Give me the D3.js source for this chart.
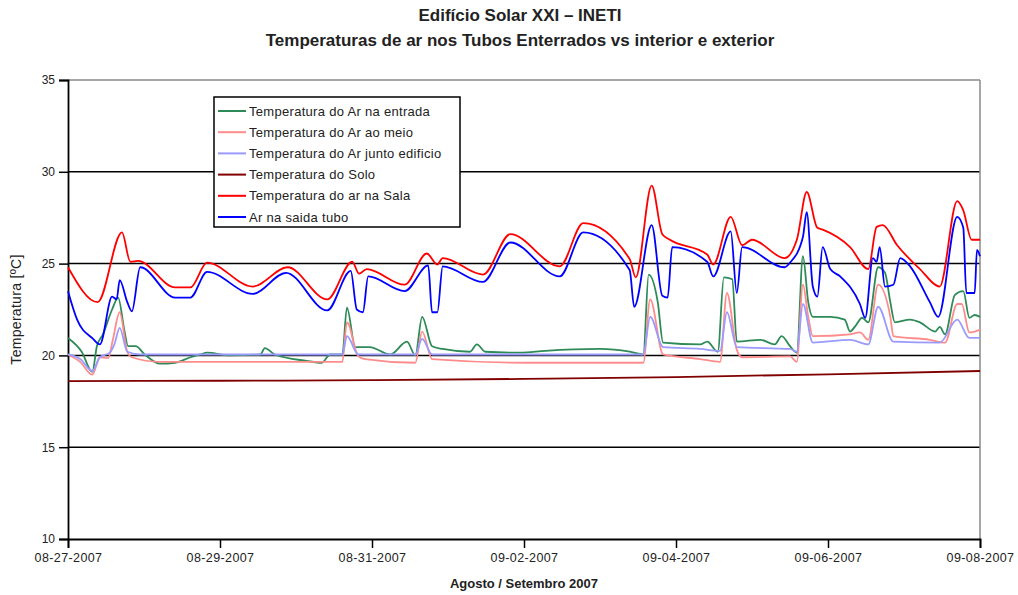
<!DOCTYPE html>
<html>
<head>
<meta charset="utf-8">
<script src="https://cdn.jsdelivr.net/npm/d3@7"></script>
<style>
  body { margin: 0; background: #fff; }
  text { font-family: Arial, "Liberation Sans", sans-serif; fill: #222; }
</style>
</head>
<body>
<div id="vis"></div>
<script>
// size of the page / plot area
const width = 1018
const height = 595
const margin = { top: 80, right: 38, bottom: 56, left: 68 }

// start of the x axis, all series use day offsets from it
const startDate = new Date(2007, 7, 27)
const endDate = new Date(2007, 8, 8)
const xTickLabels = ['08-27-2007', '08-29-2007', '08-31-2007', '09-02-2007', '09-04-2007', '09-06-2007', '09-08-2007']
const yTicks = [10, 15, 20, 25, 30, 35]

// series: [day offset, temperature]
const arEntrada = [[0, 20.95], [0.18, 20.2], [0.32, 19.1], [0.38, 20.5], [0.46, 21.15], [0.58, 22.5], [0.66, 23.15], [0.74, 21.4], [0.79, 20.5], [0.89, 20.5], [1.01, 20.05], [1.21, 19.55], [1.41, 19.6], [1.61, 19.9], [1.74, 20.05], [1.83, 20.15], [2.13, 20.0], [2.53, 20.05], [2.59, 20.4], [2.72, 20.05], [3.14, 19.7], [3.34, 19.6], [3.45, 20.05], [3.61, 20.05], [3.67, 22.6], [3.78, 20.45], [3.97, 20.45], [4.24, 20.05], [4.46, 20.75], [4.57, 20.0], [4.66, 22.1], [4.79, 20.5], [4.93, 20.35], [5.29, 20.2], [5.38, 20.6], [5.49, 20.2], [5.95, 20.15], [6.28, 20.25], [7.0, 20.35], [7.39, 20.2], [7.57, 20.05], [7.64, 24.4], [7.76, 22.9], [7.83, 20.7], [8.32, 20.6], [8.41, 20.75], [8.55, 20.2], [8.63, 24.25], [8.74, 24.15], [8.8, 20.75], [9.11, 20.85], [9.3, 20.6], [9.39, 21.05], [9.5, 20.5], [9.59, 20.15], [9.67, 25.4], [9.74, 22.9], [9.8, 22.1], [10.03, 22.1], [10.22, 21.95], [10.29, 21.3], [10.36, 21.6], [10.45, 22.05], [10.53, 21.8], [10.66, 24.8], [10.75, 24.5], [10.82, 22.9], [10.88, 21.8], [11.08, 21.95], [11.21, 21.8], [11.41, 21.3], [11.47, 21.55], [11.54, 21.15], [11.67, 23.3], [11.78, 23.5], [11.86, 22.05], [11.93, 22.2], [12.0, 22.1]]

const arMeio = [[0, 20.05], [0.16, 19.65], [0.32, 18.95], [0.42, 19.9], [0.53, 19.85], [0.59, 20.85], [0.68, 22.35], [0.78, 20.2], [0.84, 19.9], [1.21, 19.65], [2.39, 19.65], [3.61, 19.65], [3.67, 21.8], [3.82, 19.95], [3.91, 19.8], [4.57, 19.6], [4.66, 21.3], [4.79, 19.8], [6.05, 19.6], [7.57, 19.6], [7.66, 23.05], [7.83, 20.05], [8.32, 19.8], [8.58, 19.65], [8.67, 23.4], [8.8, 20.3], [8.87, 19.9], [9.5, 19.95], [9.59, 19.65], [9.67, 23.85], [9.74, 22.1], [9.8, 21.05], [10.29, 21.15], [10.42, 21.25], [10.53, 20.85], [10.66, 23.85], [10.82, 22.1], [10.86, 21.05], [11.34, 20.85], [11.54, 20.7], [11.7, 22.8], [11.76, 22.8], [11.86, 21.25], [11.93, 21.3], [12.0, 21.4]]

const arEdificio = [[0, 20.05], [0.16, 19.8], [0.32, 19.15], [0.42, 19.9], [0.55, 20.15], [0.61, 20.6], [0.68, 21.5], [0.78, 20.2], [0.95, 20.05], [3.61, 20.05], [3.67, 21.05], [3.82, 20.05], [4.57, 20.05], [4.66, 20.9], [4.79, 20.05], [7.57, 20.05], [7.66, 22.1], [7.83, 20.45], [8.32, 20.35], [8.58, 20.25], [8.67, 22.35], [8.8, 20.45], [9.5, 20.35], [9.59, 20.2], [9.67, 22.8], [9.8, 20.7], [10.29, 20.85], [10.53, 20.6], [10.66, 22.65], [10.86, 20.75], [11.47, 20.7], [11.7, 21.95], [11.86, 20.95], [12.0, 20.95]]

const solo = [[0, 18.6], [2, 18.62], [4, 18.65], [6, 18.72], [8, 18.82], [10, 18.97], [12, 19.15]]

const sala = [[0, 24.8], [0.39, 22.9], [0.71, 26.7], [0.82, 25.1], [0.92, 25.15], [1.41, 23.7], [1.61, 23.7], [1.83, 25.05], [2.43, 23.75], [2.89, 24.8], [3.41, 23.05], [3.74, 25.1], [3.83, 24.45], [3.93, 24.7], [4.43, 23.85], [4.72, 25.55], [4.86, 24.95], [4.93, 25.3], [5.46, 24.4], [5.82, 26.6], [6.47, 24.85], [6.78, 27.2], [7.39, 25.25], [7.47, 24.25], [7.68, 29.25], [7.82, 26.6], [7.92, 26.3], [8.41, 25.5], [8.49, 24.95], [8.72, 27.55], [8.87, 26.0], [9.0, 26.3], [9.43, 25.3], [9.59, 26.3], [9.72, 28.9], [9.86, 26.95], [9.93, 26.85], [10.29, 25.9], [10.53, 24.7], [10.64, 27.0], [10.72, 27.1], [10.91, 26.0], [11.21, 24.7], [11.47, 23.75], [11.7, 28.4], [11.78, 27.9], [11.89, 26.3], [12.0, 26.3]]

const saidaTubo = [[0, 23.5], [0.12, 21.95], [0.33, 20.9], [0.42, 20.6], [0.58, 23.2], [0.64, 23.05], [0.68, 24.1], [0.78, 22.9], [0.84, 22.4], [0.95, 24.8], [1.41, 23.15], [1.61, 23.15], [1.83, 24.55], [2.43, 23.35], [2.87, 24.5], [3.41, 22.45], [3.72, 24.6], [3.8, 22.5], [3.88, 22.35], [3.95, 24.3], [4.43, 23.5], [4.74, 24.9], [4.79, 22.35], [4.86, 22.35], [4.93, 24.85], [5.46, 24.0], [5.82, 26.15], [6.47, 24.3], [6.78, 26.7], [7.39, 24.65], [7.45, 22.65], [7.68, 27.1], [7.82, 23.25], [7.89, 23.15], [7.95, 25.9], [8.41, 25.1], [8.49, 24.3], [8.72, 26.75], [8.8, 23.4], [8.87, 25.9], [9.43, 24.8], [9.5, 25.05], [9.67, 26.45], [9.72, 27.8], [9.8, 23.75], [9.86, 23.2], [9.93, 25.9], [10.03, 24.7], [10.16, 24.3], [10.42, 22.8], [10.49, 22.05], [10.59, 25.3], [10.64, 25.1], [10.68, 25.9], [10.75, 23.75], [10.86, 23.85], [10.95, 25.3], [11.08, 24.85], [11.34, 22.9], [11.45, 22.1], [11.7, 27.55], [11.78, 26.95], [11.82, 23.4], [11.93, 23.4], [11.96, 25.75], [12.0, 25.4]]

const seriesNames = ['Temperatura do Ar na entrada', 'Temperatura do Ar ao meio', 'Temperatura do Ar junto edificio', 'Temperatura do Solo', 'Temperatura do ar na Sala', 'Ar na saida tubo']
const seriesColors = ['#2e8b57', '#ff8c8c', '#9a9aff', '#800000', '#ff0000', '#0000ff']
const seriesData = [arEntrada, arMeio, arEdificio, solo, sala, saidaTubo]

const toDate = d => new Date(startDate.getTime() + d * 86400000)
const parseTick = d3.timeParse('%m-%d-%Y')

const svg = d3.select('#vis')
    .append('svg')
    .attr('width', width)
    .attr('height', height)

const x = d3.scaleTime()
    .domain([startDate, endDate])
    .range([margin.left, width - margin.right])

const y = d3.scaleLinear()
    .domain([10, 35])
    .range([height - margin.bottom, margin.top])

// titles
svg.append('text')
    .attr('x', 520).attr('y', 21)
    .attr('text-anchor', 'middle')
    .style('font-size', '17px').style('font-weight', 'bold')
    .text('Edifício Solar XXI – INETI')
svg.append('text')
    .attr('x', 520).attr('y', 46)
    .attr('text-anchor', 'middle')
    .style('font-size', '17px').style('font-weight', 'bold')
    .text('Temperaturas de ar nos Tubos Enterrados vs interior e exterior')

// gridlines
svg.append('g')
    .selectAll('line')
    .data(yTicks.filter(t => t > 10))
    .enter()
    .append('line')
    .attr('x1', margin.left).attr('x2', width - margin.right)
    .attr('y1', d => y(d)).attr('y2', d => y(d))
    .attr('stroke', d => d === 35 ? '#8a8a8a' : '#000')
    .attr('stroke-width', 1.5)

// right border of the plot
svg.append('line')
    .attr('x1', width - margin.right).attr('x2', width - margin.right)
    .attr('y1', margin.top).attr('y2', height - margin.bottom)
    .attr('stroke', '#8a8a8a').attr('stroke-width', 1.5)

// axes
const yAxis = svg.append('g')
    .attr('transform', `translate(${margin.left},0)`)
    .call(d3.axisLeft(y).tickValues(yTicks).tickSize(9).tickPadding(4))
const xAxis = svg.append('g')
    .attr('transform', `translate(0,${height - margin.bottom})`)
    .call(d3.axisBottom(x)
        .tickValues(xTickLabels.map(parseTick))
        .tickFormat(d3.timeFormat('%m-%d-%Y'))
        .tickSize(9).tickPadding(5))

svg.selectAll('.domain').attr('stroke', '#000').attr('stroke-width', 1.8)
svg.selectAll('.tick line').attr('stroke', '#000').attr('stroke-width', 1.5)
yAxis.selectAll('text').style('font-size', '12px').attr('fill', '#222')
xAxis.selectAll('text').style('font-size', '12.5px').style('letter-spacing', '0.4px').attr('fill', '#222')

// axis titles
svg.append('text')
    .attr('transform', `translate(21,${(margin.top + height - margin.bottom) / 2}) rotate(-90)`)
    .attr('text-anchor', 'middle')
    .style('font-size', '14px')
    .style('letter-spacing', '0.3px')
    .text('Temperatura [ºC]')
svg.append('text')
    .attr('x', 524).attr('y', 588)
    .attr('text-anchor', 'middle')
    .style('font-size', '13px').style('font-weight', 'bold')
    .text('Agosto / Setembro 2007')

// lines, lightly smoothed like the original
const line = d3.line()
    .curve(d3.curveMonotoneX)
    .x(d => x(toDate(d[0])))
    .y(d => y(d[1]))

svg.append('g')
    .selectAll('path')
    .data(seriesData)
    .enter()
    .append('path')
    .attr('d', line)
    .attr('fill', 'none')
    .attr('stroke', (d, i) => seriesColors[i])
    .attr('stroke-width', 1.8)
    .attr('stroke-linejoin', 'round')

// legend
const legend = svg.append('g')
    .attr('transform', 'translate(214,97)')
legend.append('rect')
    .attr('width', 246).attr('height', 130)
    .attr('fill', '#fff').attr('stroke', '#000').attr('stroke-width', 1.5)
const items = legend.selectAll('.item')
    .data(seriesNames)
    .enter()
    .append('g')
    .attr('class', 'item')
    .attr('transform', (d, i) => `translate(0,${14 + i * 21.2})`)
items.append('line')
    .attr('x1', 4).attr('x2', 32)
    .attr('stroke', (d, i) => seriesColors[i])
    .attr('stroke-width', 2)
items.append('text')
    .attr('x', 35).attr('dy', '0.35em')
    .style('font-size', '13px')
    .style('letter-spacing', '0.3px')
    .text(d => d)
</script>
</body>
</html>
